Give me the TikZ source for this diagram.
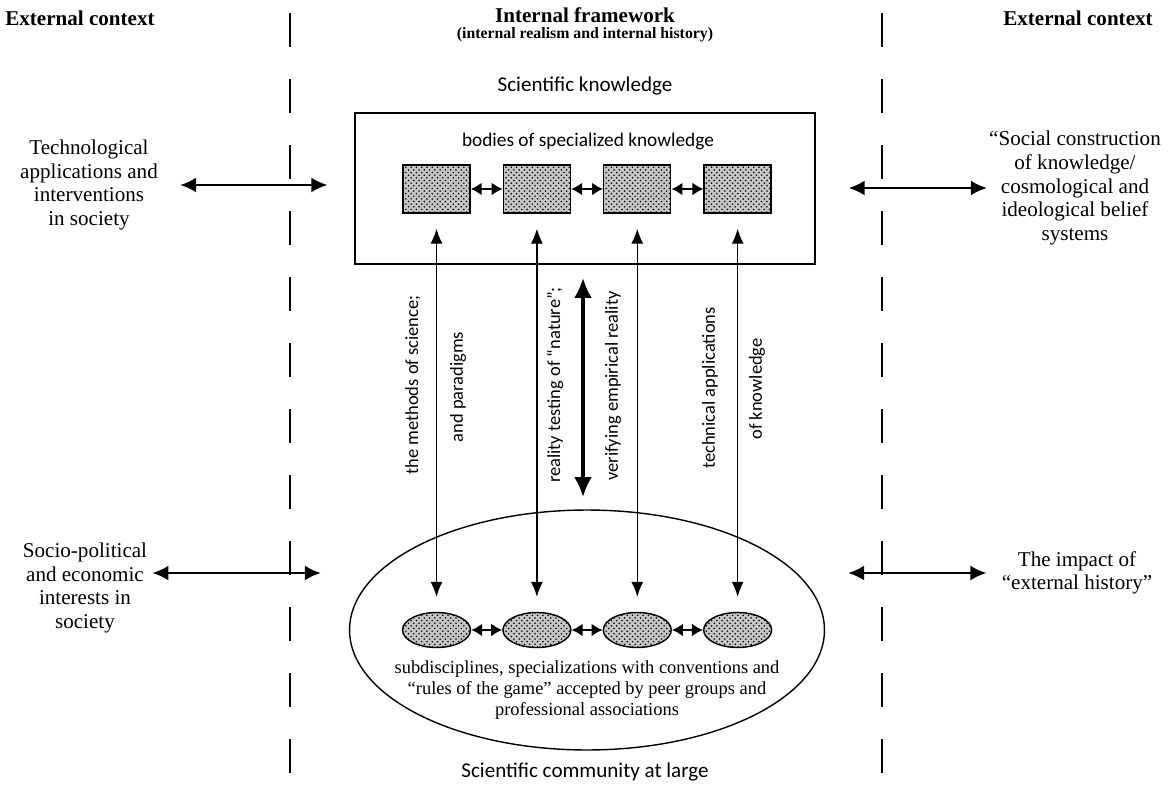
\documentclass[tikz,border=0pt]{standalone}
\usepackage{fontspec}
\setmainfont{Liberation Serif}
\newfontfamily\labelfont{Carlito}
\usetikzlibrary{arrows.meta,patterns,positioning,shapes.geometric}

\tikzset{
  heading/.style={font=\bfseries\fontsize{12}{14}\selectfont},
  outer/.style={align=center, font=\fontsize{12}{13.4}\selectfont, inner sep=0pt},
  title/.style={font=\labelfont\fontsize{12}{14}\selectfont},
  body/.style={draw, thick, preaction={fill=gray!45}, pattern=crosshatch dots, minimum width=1.34cm, minimum height=0.96cm, inner sep=0pt},
  group/.style={draw, thick, ellipse, preaction={fill=gray!45}, pattern=crosshatch dots, minimum width=1.36cm, minimum height=0.7cm, inner sep=0pt},
  side/.style={rotate=90, font=\labelfont\fontsize{10.5}{12}\selectfont},
  border/.style={line width=1.4pt, dash pattern=on 0.68cm off 0.64cm},
  wide/.style={<->, line width=1.3pt, >={Latex[length=0.32cm,width=0.3cm]}},
  link/.style={<->, line width=1.5pt, >={Latex[length=0.22cm,width=0.26cm]}},
  test/.style={<->, line width=0.7pt, >={Latex[length=0.3cm,width=0.24cm]}, shorten <=0.3cm, shorten >=0.3cm},
}

\begin{document}
\begin{tikzpicture}[x=0.02cm, y=-0.02cm]
\useasboundingbox (0,0) rectangle (1169,784);

% column borders
\draw[border] (290,13) -- (290,775);
\draw[border] (882,13) -- (882,775);

% headings
\node (extL) [heading] at (80,18) {External context};
\node (intfw) [heading] at (585,15) {Internal framework};
\node (intsub) [below=-4pt of intfw, font=\bfseries\fontsize{9}{10}\selectfont] {(internal realism and internal history)};
\node (extR) [heading] at (1078,18) {External context};

% scientific knowledge
\node (sciknow) [title] at (585,86) {Scientific knowledge};
\node (skbox) [draw, line width=0.8pt, minimum width=9.2cm, minimum height=3.02cm] at (585,188.5) {};
\node (bodies) [font=\labelfont\fontsize{11}{13}\selectfont] at (588,141) {bodies of specialized knowledge};
\node (sq1) [body] at (436.5,189) {};
\node (sq2) [body, right=0.64cm of sq1] {};
\node (sq3) [body, right=0.64cm of sq2] {};
\node (sq4) [body, right=0.64cm of sq3] {};
\draw[link] (sq1) -- (sq2);
\draw[link] (sq2) -- (sq3);
\draw[link] (sq3) -- (sq4);

% scientific community
\node (community) [draw, ellipse, line width=0.8pt, minimum width=9.5cm, minimum height=4.8cm] at (587,630) {};
\coordinate (grprow) at (0,630);
\node (grp1) [group] at (sq1 |- grprow) {};
\node (grp2) [group] at (sq2 |- grprow) {};
\node (grp3) [group] at (sq3 |- grprow) {};
\node (grp4) [group] at (sq4 |- grprow) {};
\draw[link] (grp1) -- (grp2);
\draw[link] (grp2) -- (grp3);
\draw[link] (grp3) -- (grp4);
\node (rules) [align=center, font=\fontsize{10.5}{12}\selectfont] at (587,690) {subdisciplines, specializations with conventions and\\“rules of the game” accepted by peer groups and\\professional associations};
\node (scicom) [title] at (585,772) {Scientific community at large};

% links between the two
\draw[test] (sq1) -- (grp1);
\draw[test] (sq2) -- (grp2);
\draw[test] (sq3) -- (grp3);
\draw[test] (sq4) -- (grp4);
\coordinate (vtop) at (583,278);
\coordinate (vbot) at (583,497);
\draw[<->, line width=1.8pt, >={Latex[length=0.4cm,width=0.36cm]}] (vtop) -- (vbot);
\node (lab1) [side] at (413,385) {the methods of science;};
\node (lab2) [side] at (458,387) {and paradigms};
\node (lab3) [side] at (555,385) {reality testing of “nature”;};
\node (lab4) [side] at (613,386) {verifying empirical reality};
\node (lab5) [side] at (710,388) {technical applications};
\node (lab6) [side] at (757,389) {of knowledge};

% external context
\node (tech) [outer] at (89,185) {Technological\\applications and\\interventions\\in society};
\node (social) [outer] at (1075,188) {“Social construction\\of knowledge/\\cosmological and\\ideological belief\\systems};
\node (socio) [outer] at (85,588) {Socio-political\\and economic\\interests in\\society};
\node (impact) [outer] at (1077,573) {The impact of\\“external history”};
\coordinate (lowrow) at (0,573);
\draw[wide, shorten <=0.44cm, shorten >=0.54cm] (tech) -- (tech -| skbox.west);
\draw[wide, shorten <=0.66cm, shorten >=0.04cm] (social -| skbox.east) -- (social);
\draw[wide, shorten <=0.1cm, shorten >=0.56cm] (socio.east |- lowrow) -- (community.west |- lowrow);
\draw[wide, shorten <=0.46cm, shorten >=0.3cm] (community.east |- lowrow) -- (impact.west |- lowrow);
\end{tikzpicture}
\end{document}
